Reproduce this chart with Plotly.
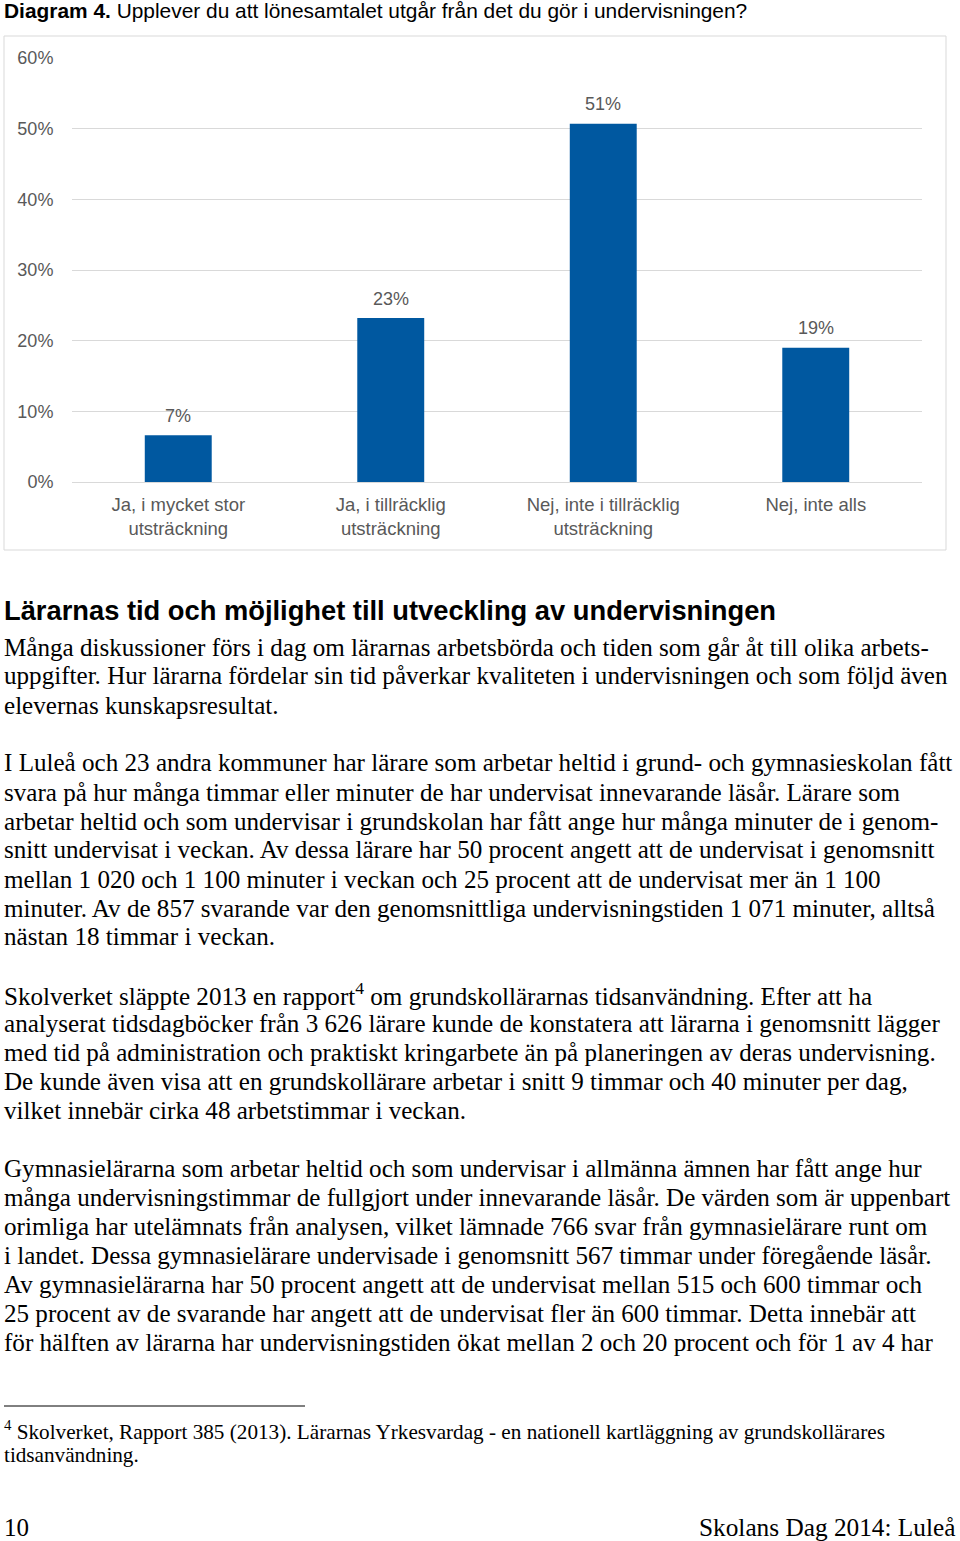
import plotly.graph_objects as go

W, H = 960, 1541

categories = ["Ja, i mycket stor<br>utsträckning", "Ja, i tillräcklig<br>utsträckning",
              "Nej, inte i tillräcklig<br>utsträckning", "Nej, inte alls"]
values = [6.6, 23.2, 50.7, 19.0]
value_labels = ["7%", "23%", "51%", "19%"]
y_ticks = [0, 10, 20, 30, 40, 50, 60]
y_tick_labels = ["0%", "10%", "20%", "30%", "40%", "50%", "60%"]

title_bold = "Diagram 4."
title_rest = " Upplever du att lönesamtalet utgår från det du gör i undervisningen?"
heading = "Lärarnas tid och möjlighet till utveckling av undervisningen"

body_lines = [
    (647, "Många diskussioner förs i dag om lärarnas arbetsbörda och tiden som går åt till olika arbets-"),
    (676, "uppgifter. Hur lärarna fördelar sin tid påverkar kvaliteten i undervisningen och som följd även"),
    (705, "elevernas kunskapsresultat."),
    (763, "I Luleå och 23 andra kommuner har lärare som arbetar heltid i grund- och gymnasieskolan fått"),
    (792, "svara på hur många timmar eller minuter de har undervisat innevarande läsår. Lärare som"),
    (821, "arbetar heltid och som undervisar i grundskolan har fått ange hur många minuter de i genom-"),
    (850, "snitt undervisat i veckan. Av dessa lärare har 50 procent angett att de undervisat i genomsnitt"),
    (879, "mellan 1 020 och 1 100 minuter i veckan och 25 procent att de undervisat mer än 1 100"),
    (908, "minuter. Av de 857 svarande var den genomsnittliga undervisningstiden 1 071 minuter, alltså"),
    (937, "nästan 18 timmar i veckan."),
    (994, "Skolverket släppte 2013 en rapport<sup>4</sup> om grundskollärarnas tidsanvändning. Efter att ha"),
    (1023, "analyserat tidsdagböcker från 3 626 lärare kunde de konstatera att lärarna i genomsnitt lägger"),
    (1052, "med tid på administration och praktiskt kringarbete än på planeringen av deras undervisning."),
    (1081, "De kunde även visa att en grundskollärare arbetar i snitt 9 timmar och 40 minuter per dag,"),
    (1110, "vilket innebär cirka 48 arbetstimmar i veckan."),
    (1168, "Gymnasielärarna som arbetar heltid och som undervisar i allmänna ämnen har fått ange hur"),
    (1197, "många undervisningstimmar de fullgjort under innevarande läsår. De värden som är uppenbart"),
    (1226, "orimliga har utelämnats från analysen, vilket lämnade 766 svar från gymnasielärare runt om"),
    (1255, "i landet. Dessa gymnasielärare undervisade i genomsnitt 567 timmar under föregående läsår."),
    (1284, "Av gymnasielärarna har 50 procent angett att de undervisat mellan 515 och 600 timmar och"),
    (1313, "25 procent av de svarande har angett att de undervisat fler än 600 timmar. Detta innebär att"),
    (1342, "för hälften av lärarna har undervisningstiden ökat mellan 2 och 20 procent och för 1 av 4 har"),
]

footnote_lines = [
    (1430, "<sup>4</sup> Skolverket, Rapport 385 (2013). Lärarnas Yrkesvardag - en nationell kartläggning av grundskollärares"),
    (1455, "tidsanvändning."),
]
page_number = "10"
footer_right = "Skolans Dag 2014: Luleå"


def px(x):
    return x / W


def py(y):
    return 1 - y / H


SANS = "Liberation Sans, Arial, sans-serif"
SERIF = "Liberation Serif, Times New Roman, serif"
GRAY = "#595959"

fig = go.Figure()
fig.add_trace(go.Bar(
    x=categories, y=values,
    marker=dict(color="#0058a0", line=dict(width=0)),
    hoverinfo="skip",
))

fig.update_layout(
    width=W, height=H,
    margin=dict(l=0, r=0, t=0, b=0, autoexpand=False),
    paper_bgcolor="white", plot_bgcolor="white",
    showlegend=False,
    bargap=0.685,
    xaxis=dict(domain=[px(72), px(922)], anchor="y", automargin=False,
               tickfont=dict(family=SANS, size=18.5, color=GRAY),
               ticks="outside", ticklen=6, tickcolor="rgba(0,0,0,0)",
               showline=False, showgrid=False),
    yaxis=dict(domain=[py(482), py(58)], range=[0, 60], tickvals=y_ticks,
               ticktext=y_tick_labels, automargin=False,
               tickfont=dict(family=SANS, size=18, color=GRAY),
               ticks="outside", ticklen=14, tickcolor="rgba(0,0,0,0)",
               showgrid=True, gridcolor="#d9d9d9", gridwidth=1,
               zeroline=True, zerolinecolor="#d9d9d9", zerolinewidth=1,
               showline=False),
)

shapes = [
    dict(type="rect", xref="paper", yref="paper", x0=px(4), x1=px(946), y0=py(550), y1=py(36),
         line=dict(color="#d9d9d9", width=1), fillcolor="rgba(0,0,0,0)", layer="below"),
    dict(type="line", xref="paper", yref="paper", x0=px(4), x1=px(305), y0=py(1406), y1=py(1406),
         line=dict(color="black", width=1)),
]
fig.update_layout(shapes=shapes)

annotations = []

# value labels above bars, positioned through the data axes
for cat, val, lab in zip(categories, values, value_labels):
    annotations.append(dict(
        x=cat, y=val, xref="x", yref="y", text=lab, showarrow=False,
        xanchor="center", yanchor="middle", yshift=19.5,
        font=dict(family=SANS, size=18, color=GRAY),
    ))


def add_text(x, y, text, family, size, color="black", anchor="left"):
    annotations.append(dict(
        x=px(x), y=py(y), xref="paper", yref="paper", text=text, showarrow=False,
        xanchor=anchor, yanchor="middle", align=anchor,
        font=dict(family=family, size=size, color=color), borderpad=0,
    ))


add_text(3, 11, f"<b>{title_bold}</b>{title_rest}", SANS, 20.9)
add_text(3, 610, f"<b>{heading}</b>", SANS, 27.3)
for y, line in body_lines:
    add_text(3, y, line, SERIF, 25.1)
for y, line in footnote_lines:
    add_text(3, y, line, SERIF, 21.2)
add_text(3, 1527, page_number, SERIF, 25)
add_text(956, 1527, footer_right, SERIF, 25.3, anchor="right")

fig.update_layout(annotations=annotations)

css_js = (
    "var s='margin:0;padding:0;overflow:hidden;height:1541px;width:960px;';"
    "document.documentElement.style.cssText=s;"
    "document.body.style.cssText=s;"
    "var g=document.getElementById('{plot_id}');"
    "if(g&&g.parentNode){g.parentNode.style.cssText=s;}"
)
fig.write_html("out.html", config={"displayModeBar": False}, post_script=css_js)
